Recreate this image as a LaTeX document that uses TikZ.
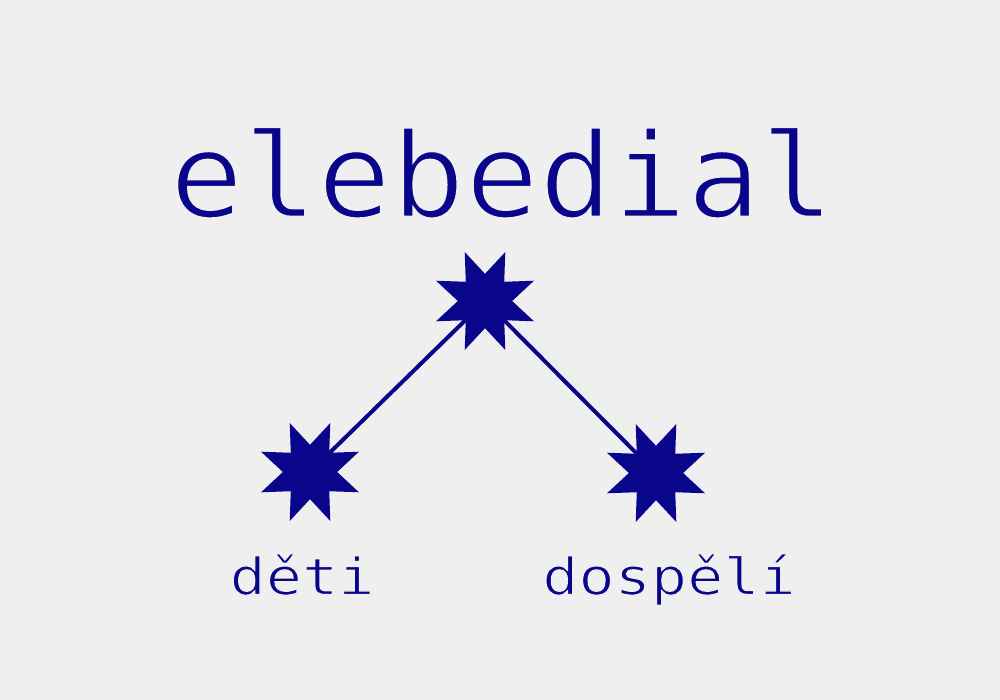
\documentclass[tikz,border=0pt]{standalone}
\usepackage{fontspec}
\newfontfamily\monof{DejaVu Sans Mono}
\usetikzlibrary{shapes.geometric,backgrounds}
\definecolor{ink}{RGB}{10,6,140}
\definecolor{bg}{RGB}{239,239,239}
\newcommand{\thinned}[2]{\special{pdf:literal direct 0.937 0.937 0.937 RG #1 w 2 Tr}#2\special{pdf:literal direct 0 Tr}}
\tikzset{
  starnode/.style={star, star points=8, star point ratio=1.95, minimum size=106pt,
    shape border rotate=22.5, fill=ink, draw=none, inner sep=0pt},
  link/.style={draw=ink, line width=4pt},
  title/.style={text=ink, font=\monof\fontsize{118}{118}\selectfont, anchor=base, inner sep=0pt, xscale=1.04, transform shape},
  label/.style={text=ink, font=\monof\fontsize{51}{51}\selectfont, anchor=base, inner sep=0pt, xscale=1.18, transform shape}
}
\begin{document}
\begin{tikzpicture}[x=1pt,y=-1pt]
\begin{scope}[on background layer]
\fill[bg] (0,0) rectangle (1000,700);
\end{scope}
\useasboundingbox (0,0) rectangle (1000,700);
\node[title] (t) at (502,217) {\thinned{2.6}{elebedial}};
\node[starnode] (top) at (485,301) {};
\node[starnode] (l) at (310,472) {};
\node[starnode] (r) at (656,473) {};
\begin{scope}[on background layer]
\draw[link] (top.center) -- (l.center);
\draw[link] (top.center) -- (r.center);
\end{scope}
\node[label] (dl) at (302,594.5) {\thinned{1.2}{děti}};
\node[label] (dr) at (669,594.5) {\thinned{1.2}{dospělí}};
\end{tikzpicture}
\end{document}
